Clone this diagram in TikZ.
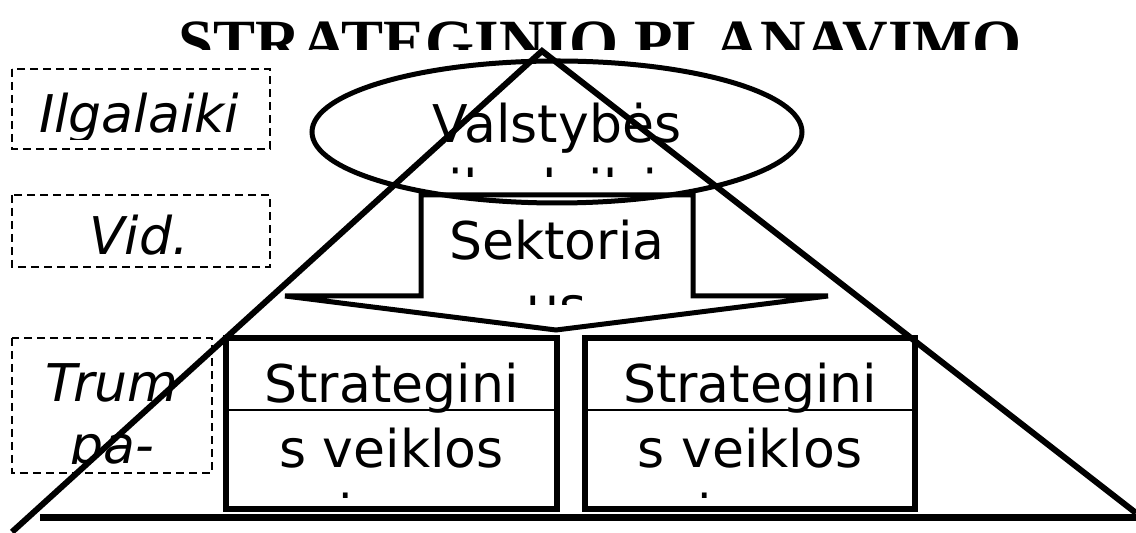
\documentclass[tikz,border=0pt]{standalone}
\usepackage{fontspec}
\setmainfont{DejaVu Sans}
\newfontfamily\titlefont{Liberation Serif}
\usetikzlibrary{positioning}

\begin{document}
\begin{tikzpicture}[x=0.5pt, y=-0.5pt,
    txt/.style={font=\fontsize{26}{32.5}\selectfont, inner sep=0pt, anchor=base},
    side/.style={txt, font=\fontsize{26}{32.5}\selectfont\itshape},
    level/.style={draw, line width=1pt, dash pattern=on 4pt off 2.5pt},
    frame/.style={draw, line width=3pt},
    edge/.style={line width=3pt, line join=miter},
]
  \useasboundingbox (0,0) rectangle (1136,533);

  % title, cut at the top
  \begin{scope}
    \clip (0,0) rectangle (1136,50);
    \node[inner sep=0pt, anchor=base, font=\titlefont\bfseries\fontsize{31.5}{36}\selectfont]
      (title) at (600,64) {STRATEGINIO PLANAVIMO};
  \end{scope}

  % time levels
  \draw[level] (12,69) rectangle (270,149);
  \draw[level] (12,195) rectangle (270,267);
  \draw[level] (12,338) rectangle (212,473);

  \begin{scope}
    \clip (0,60) rectangle (280,140);
    \node[side] (long) at (139,133) {Ilgalaiki};
  \end{scope}
  \node[side] (mid) at (139,255) {Vid.};
  \begin{scope}
    \clip (0,330) rectangle (220,464);
    \node[side] (short1) at (112,402) {Trum};
    \node[side] (short2) at (112,464) {pa-};
  \end{scope}

  % pyramid
  \draw[edge] (12,532) -- (542,51) -- (1136,513);
  \draw[line width=3.5pt] (40,518) -- (1136,518);

  % state level
  \draw[line width=2.5pt] (557,132) ellipse [x radius=245, y radius=71];
  \begin{scope}
    \clip (300,60) rectangle (820,177);
    \node[txt] (state1) at (557,143) {Valstybės};
    \node[txt] (state2) at (557,208) {ilgalaikė};
  \end{scope}

  % sector arrow
  \draw[line width=2.5pt, line join=miter] (421,195) -- (421,296) -- (285,296) -- (556,330)
    -- (828,296) -- (693,296) -- (693,195) -- cycle;
  \begin{scope}
    \clip (420,200) rectangle (694,305);
    \node[txt] (sector1) at (557,260) {Sektoria};
    \node[txt] (sector2) at (557,325) {us};
  \end{scope}

  % action plans
  \draw[frame] (226,338) rectangle (557,509);
  \draw[line width=1pt] (226,410) -- (557,410);
  \draw[frame] (585,338) rectangle (915,509);
  \draw[line width=1pt] (585,410) -- (915,410);
  \begin{scope}
    \clip (220,340) rectangle (920,498);
    \node[txt] (planA1) at (391.5,403) {Strategini};
    \node[txt] (planA2) at (391.5,468) {s veiklos};
    \node[txt] (planA3) at (391.5,533) {planas};
    \node[txt] (planB1) at (750,403) {Strategini};
    \node[txt] (planB2) at (750,468) {s veiklos};
    \node[txt] (planB3) at (750,533) {planas};
  \end{scope}
\end{tikzpicture}
\end{document}
